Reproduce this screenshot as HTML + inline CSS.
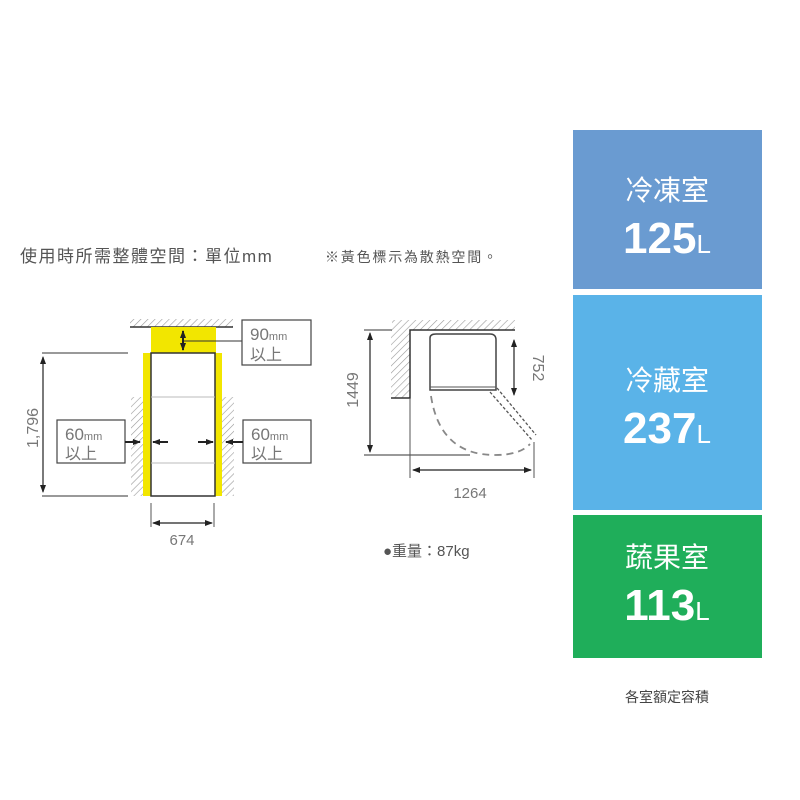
<!DOCTYPE html>
<html><head><meta charset="utf-8"><style>
body{margin:0;background:#fff;width:800px;height:800px;overflow:hidden}
svg{display:block}
text{font-family:"Liberation Sans","Noto Sans CJK TC",sans-serif}
</style></head><body>
<svg width="800" height="800" viewBox="0 0 800 800">
<defs>
<pattern id="h" width="5" height="5" patternUnits="userSpaceOnUse" patternTransform="rotate(45)">
<line x1="0" y1="0" x2="0" y2="5" stroke="#999" stroke-width="1.2"/></pattern>
<marker id="a" markerWidth="8" markerHeight="8" refX="7" refY="4" orient="auto-start-reverse" markerUnits="userSpaceOnUse"><path d="M0,1 L8,4 L0,7z" fill="#222"/></marker>
</defs>
<text x="20" y="262" font-size="17" fill="#555" letter-spacing="1.5">使用時所需整體空間：單位mm</text>
<text x="325" y="262" font-size="14" fill="#555" letter-spacing="1.8">※黃色標示為散熱空間。</text>

<!-- left diagram -->
<rect x="130" y="319" width="103" height="8" fill="url(#h)"/>
<line x1="130" y1="327" x2="233" y2="327" stroke="#333" stroke-width="1.5"/>
<rect x="151" y="327" width="65" height="26" fill="#f2e600"/>
<rect x="143" y="353" width="8" height="143" fill="#f2e600"/>
<rect x="214" y="353" width="8" height="143" fill="#f2e600"/>
<rect x="131" y="397" width="12" height="99" fill="url(#h)"/>
<rect x="222" y="397" width="12" height="99" fill="url(#h)"/>
<rect x="151" y="353" width="64" height="143" fill="#fff" stroke="#333" stroke-width="1.5"/>
<line x1="151" y1="397" x2="215" y2="397" stroke="#bbb"/>
<line x1="151" y1="463" x2="215" y2="463" stroke="#bbb"/>
<line x1="183" y1="331" x2="183" y2="350" stroke="#222" stroke-width="2" marker-start="url(#a)" marker-end="url(#a)"/>
<line x1="184" y1="341" x2="242" y2="341" stroke="#333"/>
<rect x="242" y="320" width="69" height="45" fill="#fff" stroke="#444" stroke-width="1.2"/>
<text x="250" y="340" font-size="17" fill="#777">90<tspan font-size="11">mm</tspan></text>
<text x="250" y="360" font-size="16" fill="#777">以上</text>
<line x1="42" y1="353" x2="128" y2="353" stroke="#333"/>
<line x1="42" y1="496" x2="128" y2="496" stroke="#333"/>
<line x1="43" y1="357" x2="43" y2="492" stroke="#222" stroke-width="1.2" marker-start="url(#a)" marker-end="url(#a)"/>
<text transform="translate(38,428) rotate(-90)" font-size="16" fill="#777" text-anchor="middle">1,796</text>
<rect x="57" y="420" width="68" height="43" fill="#fff" stroke="#444" stroke-width="1.2"/>
<text x="65" y="440" font-size="17" fill="#777">60<tspan font-size="11">mm</tspan></text>
<text x="65" y="459" font-size="16" fill="#777">以上</text>
<rect x="243" y="420" width="68" height="43" fill="#fff" stroke="#444" stroke-width="1.2"/>
<text x="251" y="440" font-size="17" fill="#777">60<tspan font-size="11">mm</tspan></text>
<text x="251" y="459" font-size="16" fill="#777">以上</text>
<line x1="125" y1="442" x2="140" y2="442" stroke="#222" stroke-width="2" marker-end="url(#a)"/>
<line x1="168" y1="442" x2="153" y2="442" stroke="#222" stroke-width="2" marker-end="url(#a)"/>
<line x1="198" y1="442" x2="213" y2="442" stroke="#222" stroke-width="2" marker-end="url(#a)"/>
<line x1="243" y1="442" x2="226" y2="442" stroke="#222" stroke-width="2" marker-end="url(#a)"/>
<line x1="151" y1="503" x2="151" y2="527" stroke="#555"/>
<line x1="214" y1="503" x2="214" y2="527" stroke="#555"/>
<line x1="153" y1="523" x2="212" y2="523" stroke="#222" stroke-width="1.2" marker-start="url(#a)" marker-end="url(#a)"/>
<text x="182" y="545" font-size="15" fill="#777" text-anchor="middle">674</text>

<!-- middle diagram -->
<rect x="392" y="320" width="123" height="10" fill="url(#h)"/>
<rect x="391" y="330" width="19" height="68" fill="url(#h)"/>
<polyline points="515,330 410,330 410,398 391,398" fill="none" stroke="#333" stroke-width="1.5"/>
<path d="M430,390 L430,338 Q430,334 436,334 L490,334 Q496,334 496,340 L496,390 Z" fill="#fff" stroke="#444" stroke-width="1.5"/>
<line x1="430" y1="387" x2="496" y2="387" stroke="#555"/>
<path d="M490,392 L532,440 M497,388 L536,435" stroke="#555" stroke-width="1.3" stroke-dasharray="3,2" fill="none"/>
<path d="M431,396 Q440,455 495,455 Q520,455 530,444" fill="none" stroke="#888" stroke-width="1.8" stroke-dasharray="7,5"/>
<line x1="370" y1="333" x2="370" y2="452" stroke="#222" stroke-width="1.2" marker-start="url(#a)" marker-end="url(#a)"/>
<line x1="364" y1="330" x2="392" y2="330" stroke="#333"/>
<line x1="364" y1="455" x2="470" y2="455" stroke="#333"/>
<text transform="translate(358,390) rotate(-90)" font-size="16" fill="#777" text-anchor="middle">1449</text>
<line x1="514" y1="340" x2="514" y2="395" stroke="#222" stroke-width="1.2" marker-start="url(#a)" marker-end="url(#a)"/>
<text transform="translate(533,368) rotate(90)" font-size="16" fill="#777" text-anchor="middle">752</text>
<line x1="410" y1="398" x2="410" y2="478" stroke="#555"/>
<line x1="534" y1="442" x2="534" y2="478" stroke="#555"/>
<line x1="413" y1="470" x2="531" y2="470" stroke="#222" stroke-width="1.2" marker-start="url(#a)" marker-end="url(#a)"/>
<text x="470" y="498" font-size="15" fill="#777" text-anchor="middle">1264</text>
<text x="383" y="556" font-size="15" fill="#555">●重量：87kg</text>

<!-- panels -->
<rect x="573" y="130" width="189" height="159" fill="#6a9bd1"/>
<rect x="573" y="295" width="189" height="215" fill="#5ab3e8"/>
<rect x="573" y="515" width="189" height="143" fill="#1fae5a"/>
<g fill="#fff" text-anchor="middle">
<text x="667" y="200" font-size="28">冷凍室</text>
<text x="667" y="253" font-size="44" font-weight="bold">125<tspan font-size="26" font-weight="normal">L</tspan></text>
<text x="667" y="390" font-size="28">冷藏室</text>
<text x="667" y="443" font-size="44" font-weight="bold">237<tspan font-size="26" font-weight="normal">L</tspan></text>
<text x="667" y="567" font-size="28">蔬果室</text>
<text x="667" y="620" font-size="44" font-weight="bold">113<tspan font-size="26" font-weight="normal">L</tspan></text>
</g>
<text x="667" y="702" font-size="14" fill="#444" text-anchor="middle">各室額定容積</text>
</svg>
</body></html>
